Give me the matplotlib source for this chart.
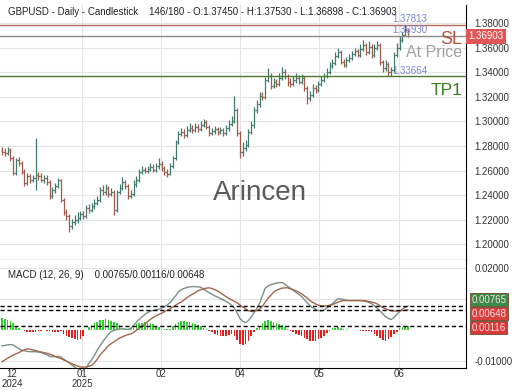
import matplotlib.pyplot as plt
import numpy as np
from matplotlib.ticker import FormatStrFormatter

plt.rcParams['font.family'] = ['Liberation Sans', 'DejaVu Sans']

# daily OHLC, GBPUSD, late Nov 2024 -> Jun 2025
opens = [1.2770, 1.2751, 1.2743, 1.2767, 1.2700, 1.2580, 1.2686, 1.2662, 1.2589, 1.2499,
         1.2556, 1.2524, 1.2540, 1.2560, 1.2556, 1.2524, 1.2540, 1.2507, 1.2394, 1.2442,
         1.2475, 1.2524, 1.2361, 1.2263, 1.2231, 1.2150, 1.2182, 1.2198, 1.2215, 1.2247,
         1.2231, 1.2296, 1.2280, 1.2312, 1.2337, 1.2361, 1.2442, 1.2426, 1.2459, 1.2410,
         1.2426, 1.2280, 1.2426, 1.2459, 1.2507, 1.2475, 1.2394, 1.2410, 1.2491, 1.2524,
         1.2589, 1.2605, 1.2597, 1.2613, 1.2629, 1.2605, 1.2637, 1.2654, 1.2621, 1.2589,
         1.2572, 1.2637, 1.2700, 1.2833, 1.2898, 1.2914, 1.2890, 1.2930, 1.2946, 1.2930,
         1.2955, 1.2938, 1.2971, 1.2995, 1.2955, 1.2906, 1.2922, 1.2938, 1.2914, 1.2930,
         1.2906, 1.2946, 1.2979, 1.3003, 1.3093, 1.2906, 1.2751, 1.2784, 1.2808, 1.2914,
         1.2971, 1.3093, 1.3141, 1.3207, 1.3198, 1.3337, 1.3369, 1.3288, 1.3320, 1.3304,
         1.3353, 1.3402, 1.3369, 1.3320, 1.3304, 1.3337, 1.3353, 1.3320, 1.3353, 1.3272,
         1.3190, 1.3215, 1.3272, 1.3255, 1.3304, 1.3337, 1.3369, 1.3402, 1.3450, 1.3475,
         1.3532, 1.3564, 1.3483, 1.3459, 1.3499, 1.3515, 1.3548, 1.3572, 1.3540, 1.3589,
         1.3621, 1.3564, 1.3605, 1.3540, 1.3597, 1.3621, 1.3483, 1.3434, 1.3467, 1.3402,
         1.3418, 1.3540, 1.3597, 1.3662, 1.3700, 1.37450]
highs = [1.2795, 1.2780, 1.2790, 1.2785, 1.2715, 1.2705, 1.2710, 1.2680, 1.2610, 1.2580,
         1.2575, 1.2565, 1.2865, 1.2590, 1.2580, 1.2565, 1.2560, 1.2525, 1.2465, 1.2500,
         1.2540, 1.2535, 1.2380, 1.2290, 1.2245, 1.2210, 1.2240, 1.2260, 1.2275, 1.2270,
         1.2320, 1.2325, 1.2340, 1.2365, 1.2395, 1.2470, 1.2480, 1.2490, 1.2475, 1.2455,
         1.2440, 1.2445, 1.2490, 1.2550, 1.2525, 1.2490, 1.2440, 1.2520, 1.2555, 1.2610,
         1.2635, 1.2625, 1.2640, 1.2660, 1.2650, 1.2665, 1.2700, 1.2675, 1.2640, 1.2615,
         1.2660, 1.2720, 1.2850, 1.2920, 1.2945, 1.2935, 1.2960, 1.2985, 1.2970, 1.2990,
         1.2980, 1.3000, 1.3020, 1.3010, 1.2970, 1.2950, 1.2965, 1.2955, 1.2955, 1.2950,
         1.2970, 1.3010, 1.3040, 1.3205, 1.3110, 1.2925, 1.2830, 1.2850, 1.2935, 1.3000,
         1.3120, 1.3175, 1.3235, 1.3240, 1.3360, 1.3430, 1.3390, 1.3350, 1.3345, 1.3395,
         1.3440, 1.3425, 1.3385, 1.3350, 1.3370, 1.3395, 1.3380, 1.3385, 1.3370, 1.3290,
         1.3245, 1.3300, 1.3295, 1.3330, 1.3365, 1.3395, 1.3435, 1.3480, 1.3510, 1.3560,
         1.3595, 1.3580, 1.3510, 1.3525, 1.3545, 1.3575, 1.3600, 1.3590, 1.3625, 1.3660,
         1.3640, 1.3650, 1.3625, 1.3630, 1.3655, 1.3635, 1.3500, 1.3495, 1.3485, 1.3445,
         1.3560, 1.3640, 1.3690, 1.3730, 1.3781, 1.37530]
lows = [1.2730, 1.2720, 1.2725, 1.2680, 1.2560, 1.2565, 1.2640, 1.2570, 1.2475, 1.2480,
        1.2500, 1.2505, 1.2445, 1.2520, 1.2505, 1.2495, 1.2480, 1.2365, 1.2375, 1.2420,
        1.2455, 1.2345, 1.2240, 1.2200, 1.2100, 1.2125, 1.2160, 1.2170, 1.2195, 1.2205,
        1.2215, 1.2255, 1.2260, 1.2290, 1.2320, 1.2345, 1.2400, 1.2405, 1.2385, 1.2390,
        1.2240, 1.2265, 1.2410, 1.2440, 1.2450, 1.2370, 1.2375, 1.2395, 1.2470, 1.2510,
        1.2570, 1.2580, 1.2580, 1.2595, 1.2585, 1.2590, 1.2615, 1.2600, 1.2565, 1.2550,
        1.2560, 1.2620, 1.2690, 1.2815, 1.2880, 1.2865, 1.2875, 1.2915, 1.2905, 1.2915,
        1.2915, 1.2920, 1.2955, 1.2935, 1.2880, 1.2890, 1.2900, 1.2890, 1.2895, 1.2880,
        1.2890, 1.2925, 1.2960, 1.2990, 1.2880, 1.2705, 1.2720, 1.2760, 1.2790, 1.2895,
        1.2950, 1.3070, 1.3120, 1.3170, 1.3185, 1.3320, 1.3265, 1.3270, 1.3280, 1.3290,
        1.3335, 1.3345, 1.3290, 1.3280, 1.3285, 1.3315, 1.3300, 1.3300, 1.3250, 1.3140,
        1.3165, 1.3200, 1.3230, 1.3240, 1.3285, 1.3320, 1.3350, 1.3385, 1.3430, 1.3455,
        1.3515, 1.3465, 1.3440, 1.3445, 1.3480, 1.3500, 1.3530, 1.3520, 1.3525, 1.3570,
        1.3540, 1.3545, 1.3515, 1.3525, 1.3580, 1.3460, 1.3405, 1.3410, 1.3370, 1.3366,
        1.3400, 1.3525, 1.3580, 1.3645, 1.3690, 1.36898]
closes = [1.2751, 1.2743, 1.2767, 1.2700, 1.2580, 1.2686, 1.2662, 1.2589, 1.2499, 1.2556,
          1.2524, 1.2540, 1.2560, 1.2556, 1.2524, 1.2540, 1.2507, 1.2394, 1.2442, 1.2475,
          1.2524, 1.2361, 1.2263, 1.2231, 1.2150, 1.2182, 1.2198, 1.2215, 1.2247, 1.2231,
          1.2296, 1.2280, 1.2312, 1.2337, 1.2361, 1.2442, 1.2426, 1.2459, 1.2410, 1.2426,
          1.2280, 1.2426, 1.2459, 1.2507, 1.2475, 1.2394, 1.2410, 1.2491, 1.2524, 1.2589,
          1.2605, 1.2597, 1.2613, 1.2629, 1.2605, 1.2637, 1.2654, 1.2621, 1.2589, 1.2572,
          1.2637, 1.2700, 1.2833, 1.2898, 1.2914, 1.2890, 1.2930, 1.2946, 1.2930, 1.2955,
          1.2938, 1.2971, 1.2995, 1.2955, 1.2906, 1.2922, 1.2938, 1.2914, 1.2930, 1.2906,
          1.2946, 1.2979, 1.3003, 1.3093, 1.2906, 1.2751, 1.2784, 1.2808, 1.2914, 1.2971,
          1.3093, 1.3141, 1.3207, 1.3198, 1.3337, 1.3369, 1.3288, 1.3320, 1.3304, 1.3353,
          1.3402, 1.3369, 1.3320, 1.3304, 1.3337, 1.3353, 1.3320, 1.3353, 1.3272, 1.3190,
          1.3215, 1.3272, 1.3255, 1.3304, 1.3337, 1.3369, 1.3402, 1.3450, 1.3475, 1.3532,
          1.3564, 1.3483, 1.3459, 1.3499, 1.3515, 1.3548, 1.3572, 1.3540, 1.3589, 1.3621,
          1.3564, 1.3605, 1.3540, 1.3597, 1.3621, 1.3483, 1.3434, 1.3467, 1.3402, 1.3418,
          1.3540, 1.3597, 1.3662, 1.3700, 1.3745, 1.36903]

# MACD(12,26,9), values in 1e-4
macd_e4 = [-51, -50, -48, -47, -48, -54, -60, -65, -67, -69,
           -70, -70, -70, -71, -73, -76, -80, -85, -86, -86,
           -85, -87, -94, -100, -106, -113, -120, -127, -132, -131,
           -125, -108, -97, -82, -66, -51, -38, -26, -14, -5,
           -1, 1, 3, 4, 3, 2, 5, 15, 25, 35,
           42, 50, 56, 61, 63, 65, 67, 70, 75, 81,
           88, 98, 110, 123, 130, 134, 137, 139, 140, 140,
           139, 138, 132, 126, 120, 115, 110, 106, 102, 97,
           92, 87, 80, 70, 55, 37, 28, 24, 30, 42,
           56, 70, 86, 110, 135, 142, 146, 149, 151, 153,
           153, 148, 141, 135, 128, 121, 115, 108, 98, 88,
           78, 72, 67, 63, 61, 65, 71, 78, 85, 93,
           101, 100, 98, 96, 95, 95, 95, 95, 95, 94,
           92, 89, 85, 78, 70, 61, 52, 43, 37, 34,
           40, 50, 60, 68, 73, 76.5]
signal_e4 = [-102, -97, -91, -86, -81, -77, -73, -68, -64, -61,
             -62, -64, -66, -69, -71, -73, -75, -78, -81, -85,
             -89, -92, -96, -100, -105, -109, -113, -116, -119, -120,
             -119, -117, -114, -106, -95, -81, -71, -61, -51, -44,
             -38, -32, -26, -22, -18, -15, -13, -8, -1, 6,
             12, 19, 27, 34, 40, 46, 50, 54, 59, 64,
             68, 74, 80, 86, 90, 97, 104, 110, 115, 120,
             127, 130, 133, 135, 136, 134, 130, 126, 120, 114,
             108, 102, 97, 92, 88, 80, 74, 68, 62, 60,
             60, 62, 68, 76, 90, 102, 112, 122, 128, 132,
             135, 136, 136, 133, 130, 126, 122, 117, 110, 103,
             95, 89, 84, 80, 78, 77, 78, 80, 82, 86,
             90, 93, 95, 95, 95, 95, 95, 95, 95, 95,
             94, 92, 90, 88, 84, 78, 72, 68, 65, 62,
             61, 61, 62, 63, 64, 64.8]
hist_e4 = [38, 36, 33, 28, 22, 14, 6, 1, -3, -6,
           -8, -7, -6, -4, -2, -1, -2, -4, -6, -7,
           -5, -3, -12, -18, -22, -26, -30, -32, -28, -18,
           0, 10, 16, 22, 27, 31, 33, 34, 32, 30,
           26, 22, 16, 8, 4, 3, 5, 12, 18, 22,
           24, 25, 24, 22, 18, 14, 10, 4, 3, 3,
           4, 12, 20, 26, 28, 28, 27, 25, 22, 20,
           17, 12, 6, 3, -2, -8, -12, -16, -18, -19,
           -18, -16, -14, -20, -32, -45, -50, -44, -34, -20,
           -6, 6, 14, 24, 30, 32, 30, 27, 24, 20,
           16, 10, 4, -4, -8, -12, -16, -20, -26, -30,
           -34, -36, -34, -30, -26, -18, -10, -2, 5, 8,
           9, 6, 4, 2, 1, -1, -1, 0, -2, -3,
           -4, -3, -6, -12, -18, -26, -32, -34, -30, -24,
           -14, -6, 8, 11, 10, 11.6]

month_ticks = [3.6, 28.6, 56.8, 85.0, 113.2, 141.8]
month_labels = ['12\n2024', '01\n2025', '02', '04', '05', '06']
price_ticks = [1.20, 1.22, 1.24, 1.26, 1.28, 1.30, 1.32, 1.34, 1.36, 1.38]

sl_price = 1.37813
entry_price = 1.36930
tp1_price = 1.33664
macd_last, hist_last, signal_last = 0.00765, 0.00116, 0.00648

UP = '#3f7a6c'
DOWN = '#a05a4c'
GRID = '#e4e4e4'

o = np.array(opens)
h = np.array(highs)
l = np.array(lows)
c = np.array(closes)
x = np.arange(len(c))
colors = np.where(c >= o, UP, DOWN)

fig = plt.figure(figsize=(5.2, 3.9), dpi=100)
ax = fig.add_axes([0, 130 / 390, 466 / 520, 255 / 390])
ax2 = fig.add_axes([0, 22 / 390, 466 / 520, 108 / 390], sharex=ax)

# price panel
for gx in month_ticks[1:]:
    ax.axvline(gx, color=GRID, lw=0.8, zorder=0)
    ax2.axvline(gx, color=GRID, lw=0.8, zorder=0)
ax.vlines(x, l, h, colors=colors, lw=0.9)
ax.hlines(o, x - 0.5, x, colors=colors, lw=0.9)
ax.hlines(c, x, x + 0.5, colors=colors, lw=0.9)

ax.axhline(sl_price, color='#b86a5a', lw=1)
ax.axhline(entry_price, color='#8a8a8a', lw=1)
ax.axhline(tp1_price, color='#4c7a2e', lw=1)

lvl_col = '#7b84d4'
ax.text(139.5, sl_price + 0.0008, '%.5f' % sl_price, color=lvl_col, fontsize=7, va='bottom')
ax.text(139.5, entry_price + 0.0006, '%.5f' % entry_price, color=lvl_col, fontsize=7, va='bottom')
ax.text(139.5, tp1_price + 0.0006, '%.5f' % tp1_price, color=lvl_col, fontsize=7, va='bottom')
ax.text(164.3, 1.3668, 'SL', color='#b5503c', fontsize=13, ha='right', va='center')
ax.text(164.3, 1.3560, 'At Price', color='#a0a0a0', fontsize=11.5, ha='right', va='center')
ax.text(164.3, 1.3255, 'TP1', color='#3c7a20', fontsize=12.5, ha='right', va='center')

ax.text(0.558, 0.263, 'Arincen', transform=ax.transAxes, fontsize=20, color='#5a5a5a',
        ha='center', va='center')
ax.text(8 / 466, 1 - 7 / 255,
        'GBPUSD - Daily - Candlestick    146/180 - O:%.5f - H:%.5f - L:%.5f - C:%.5f'
        % (opens[-1], highs[-1], lows[-1], closes[-1]),
        transform=ax.transAxes, fontsize=7, color='#222222', va='center')

ax.set_xlim(-0.7, 165.7)
ax.set_ylim(1.1873, 1.3946)
ax.yaxis.tick_right()
ax.set_yticks(price_ticks)
ax.yaxis.set_major_formatter(FormatStrFormatter('%.5f'))
ax.tick_params(axis='y', labelsize=7, length=0, pad=6, colors='#333333')
ax.tick_params(axis='x', length=0, labelbottom=False)
ax.grid(axis='y', color=GRID, lw=0.8)
ax.set_axisbelow(True)
ax.text(1.006, closes[-1], '%.5f' % closes[-1], transform=ax.get_yaxis_transform(),
        fontsize=7, color='white', va='center', ha='left',
        bbox=dict(boxstyle='square,pad=0.25', fc='#e05555', ec='none'), clip_on=False)

# MACD panel
m = np.array(macd_e4) / 1e4
s = np.array(signal_e4) / 1e4
hv = np.array(hist_e4) / 1e4
ax2.bar(x, hv, width=0.6, color=np.where(hv >= 0, '#33cc33', '#dd2222'), lw=0)
ax2.plot(x, m, color='#7b8f86', lw=1)
ax2.plot(x, s, color='#a5654a', lw=1)
for v in (macd_last, signal_last, hist_last):
    ax2.axhline(v, color='black', lw=1, ls=(0, (3, 2)))
ax2.set_ylim(-0.01226, 0.02258)
ax2.yaxis.tick_right()
ax2.set_yticks([-0.01, 0.01, 0.02])
ax2.yaxis.set_major_formatter(FormatStrFormatter('%.5f'))
ax2.tick_params(axis='y', labelsize=7, length=0, pad=6, colors='#333333')
ax2.grid(axis='y', color=GRID, lw=0.8)
ax2.set_axisbelow(True)
ax2.set_xticks(month_ticks, month_labels)
ax2.tick_params(axis='x', labelsize=7, length=0, pad=1, colors='#333333')
for lab in ax2.get_xticklabels():
    lab.set_linespacing(0.95)
ax2.text(8 / 466, 0.86, 'MACD (12, 26, 9)    %.5f/%.5f/%.5f' % (macd_last, hist_last, signal_last),
         transform=ax2.transAxes, fontsize=7, color='#222222', va='center')

ytr = ax2.get_yaxis_transform()
for yv, val, fc in ((0.0097, macd_last, '#3a8a4a'), (0.0052, signal_last, '#d84040'),
                    (0.0008, hist_last, '#d83a3a')):
    ax2.text(1.012, yv, '%.5f' % val, transform=ytr, fontsize=7, color='#ffdede', va='center',
             bbox=dict(boxstyle='square,pad=0.15', fc=fc, ec='#6b4a2a', lw=0.6), clip_on=False)

for a in (ax, ax2):
    a.spines['left'].set_visible(False)
    a.spines['top'].set_visible(False)
    a.spines['right'].set_color('black')
    a.spines['bottom'].set_color('black')

fig.savefig('out.png', dpi=100)
